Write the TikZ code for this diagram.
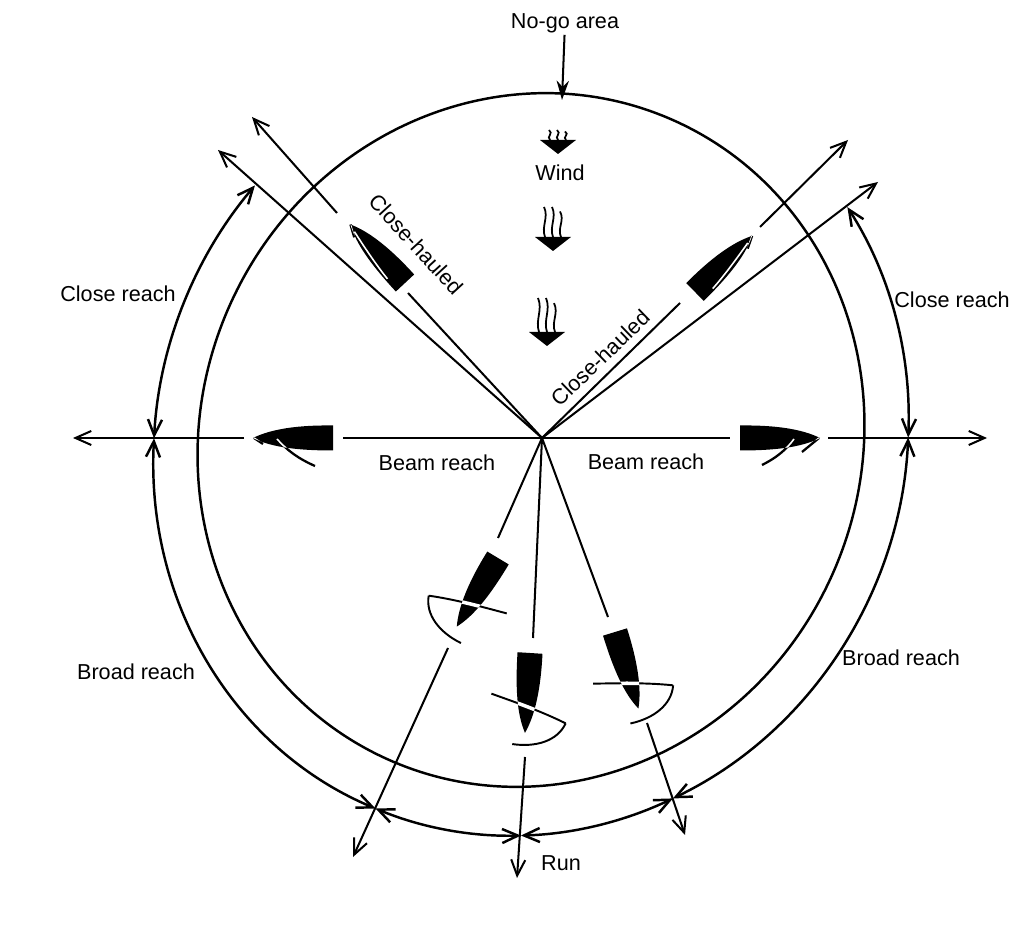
\documentclass[tikz,border=0pt]{standalone}
\usepackage{fontspec}
\setmainfont{Liberation Sans}
\usetikzlibrary{arrows.meta}

\tikzset{
  lbl/.style={font=\fontsize{12.3}{14}\selectfont, inner sep=1pt},
  rayline/.style={line width=1.15pt},
  course/.style={rayline, -{Straight Barb[length=9pt,width=8pt]}},
  ringline/.style={line width=1.4pt},
  reach/.style={line width=1.4pt, {Straight Barb[length=9pt,width=8pt]}-{Straight Barb[length=9pt,width=8pt]}},
  hullpath/.style={insert path={(0,-12.5) -- (0,12.5) .. controls (35,13) and (62,9) .. (80,0) .. controls (66,-7) and (45,-12.5) .. (0,-12.5) -- cycle}},
  boat/.pic={
    \fill (0,0) [hullpath];
    \draw[line width=1.3pt] #1;
    \begin{scope}
      \clip (0,0) [hullpath];
      \draw[white, line width=0.9pt] #1;
    \end{scope}
  },
  runner/.pic={
    \fill (0,0) [hullpath];
    \draw[line width=1.1pt] (43,-36) .. controls (50,-12) and (57,14) .. (68,40);
    \draw[line width=1.1pt] (68,40) .. controls (86,33) and (94,12) .. (92,-12);
    \begin{scope}
      \clip (0,0) [hullpath];
      \draw[white, line width=2pt] (43,-36) .. controls (50,-12) and (57,14) .. (68,40);
    \end{scope}
  },
  gust/.pic={
    \fill (-18,0) -- (18,0) -- (0,-14) -- cycle;
    \draw[line width=1pt] (-8,0) .. controls (-12,#1*0.35) and (-4,#1*0.65) .. (-9,#1);
    \draw[line width=1pt] (0,0) .. controls (-4,#1*0.35) and (4,#1*0.65) .. (-1,#1);
    \draw[line width=1pt] (8,0) .. controls (4,#1*0.3) and (12,#1*0.55) .. (7,#1*0.85);
  }
}

\begin{document}
\begin{tikzpicture}[x=0.02cm, y=0.02cm]
  \useasboundingbox (0,0) rectangle (1024,933);

  % points of the rays
  \coordinate (O) at (542,495);
  \coordinate (nogoL) at (218,783);
  \coordinate (nogoR) at (878,751);
  \coordinate (chL1) at (408,640);
  \coordinate (chL2) at (337,720);
  \coordinate (chL3) at (252,816);
  \coordinate (chR1) at (680,630);
  \coordinate (chR2) at (760,706);
  \coordinate (chR3) at (848,793);
  \coordinate (bmL1) at (343,495);
  \coordinate (bmL2) at (244,495);
  \coordinate (bmL3) at (73,495);
  \coordinate (bmR1) at (730,495);
  \coordinate (bmR2) at (828,495);
  \coordinate (bmR3) at (987,495);
  \coordinate (brL1) at (498,395);
  \coordinate (brL2) at (448,285);
  \coordinate (brL3) at (353,76);
  \coordinate (run1) at (533,295);
  \coordinate (run2) at (525,176);
  \coordinate (run3) at (517,55);
  \coordinate (brR1) at (608,316);
  \coordinate (brR2) at (647,210);
  \coordinate (brR3) at (685,98);
  \coordinate (nogoTip) at (562,833);

  % circle and reach arcs
  \begin{scope}[shift={(531,493)}, rotate=66]
    \draw[ringline] (0,0) ellipse [x radius=350, y radius=330];
    \coordinate (cUL) at (72.5:400 and 373);
    \coordinate (cW)  at (112.3:400 and 373);
    \coordinate (cSW) at (181.2:400 and 373);
    \coordinate (cS)  at (204:400 and 373);
    \coordinate (cSE) at (227.6:400 and 373);
    \coordinate (cE)  at (292.9:400 and 373);
    \coordinate (cUR) at (328.6:400 and 373);
    \draw[reach] (cUL) arc[start angle=72.5, end angle=112.3, x radius=400, y radius=373];
    \draw[reach] (cW) arc[start angle=112.3, end angle=181.2, x radius=400, y radius=373];
    \draw[reach] (cSW) arc[start angle=181.2, end angle=204, x radius=400, y radius=373];
    \draw[reach] (cS) arc[start angle=204, end angle=227.6, x radius=400, y radius=373];
    \draw[reach] (cSE) arc[start angle=227.6, end angle=292.9, x radius=400, y radius=373];
    \draw[reach] (cE) arc[start angle=292.9, end angle=328.6, x radius=400, y radius=373];
  \end{scope}

  % rays
  \draw[course] (O) -- (nogoL);
  \draw[course] (O) -- (nogoR);
  \draw[rayline] (O) -- (chL1);
  \draw[course] (chL2) -- (chL3);
  \draw[rayline] (O) -- (chR1);
  \draw[course] (chR2) -- (chR3);
  \draw[rayline] (O) -- (bmL1);
  \draw[course] (bmL2) -- (bmL3);
  \draw[rayline] (O) -- (bmR1);
  \draw[course] (bmR2) -- (bmR3);
  \draw[rayline] (O) -- (brL1);
  \draw[course] (brL2) -- (brL3);
  \draw[rayline] (O) -- (run1);
  \draw[course] (run2) -- (run3);
  \draw[rayline] (O) -- (brR1);
  \draw[course] (brR2) -- (brR3);

  % boats
  \pic (boatCHL) [rotate=133, yscale=-1] at (405,650) {boat={(72,-2) .. controls (50,-6) and (30,-9) .. (15,-10) (80,0) -- (68,-6)}};
  \pic (boatCHR) [rotate=44.5] at (695,641) {boat={(72,-2) .. controls (50,-6) and (30,-9) .. (15,-10) (80,0) -- (68,-6)}};
  \pic (boatBML) [rotate=180, yscale=-1] at (333,495) {boat={(56,-1) .. controls (46,-12) and (36,-20) .. (18,-28) (79,0) -- (70,-6)}};
  \pic (boatBMR) [rotate=0] at (740,495) {boat={(54,-1) .. controls (46,-12) and (36,-20) .. (22,-27) (79,0) -- (62,-14)}};
  \pic (boatBRL) [rotate=239, yscale=-1] at (498,375) {runner};
  \pic (boatRUN) [rotate=266.4] at (530,280) {runner};
  \pic (boatBRR) [rotate=287] at (615,301) {runner};

  % wind
  \pic (gust1) at (558,793) {gust=10};
  \pic (gust2) at (553,696) {gust=30};
  \pic (gust3) at (547,601) {gust=34};

  % labels
  \node[lbl] (tnogo) at (565,910) {No-go area};
  \draw[rayline, -{Stealth[length=11pt,width=7pt]}] (tnogo) -- (nogoTip);
  \node[lbl] (twind) at (560,760) {Wind};
  \node[lbl, rotate=-47.5] (tchL) at (416,689) {Close-hauled};
  \node[lbl, rotate=44] (tchR) at (600,575) {Close-hauled};
  \node[lbl] (tbmL) at (437,470) {Beam reach};
  \node[lbl] (tbmR) at (646,471) {Beam reach};
  \node[lbl] (tcrL) at (118,639) {Close reach};
  \node[lbl] (tcrR) at (952,633) {Close reach};
  \node[lbl] (tbrL) at (136,261) {Broad reach};
  \node[lbl] (tbrR) at (901,275) {Broad reach};
  \node[lbl] (trun) at (561,70) {Run};
\end{tikzpicture}
\end{document}
